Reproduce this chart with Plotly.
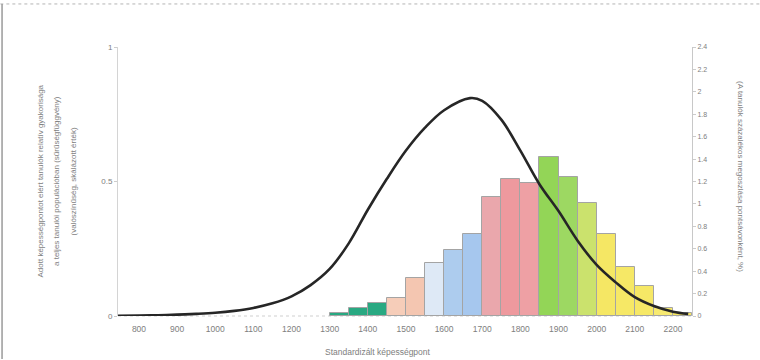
import plotly.graph_objects as go

# ---- data ----
bin_centers = [1325, 1375, 1425, 1475, 1525, 1575, 1625, 1675, 1725, 1775,
               1825, 1875, 1925, 1975, 2025, 2075, 2125, 2175, 2225]
bin_values = [0.03, 0.07, 0.12, 0.16, 0.34, 0.47, 0.59, 0.73, 1.06, 1.22,
              1.19, 1.42, 1.24, 1.01, 0.73, 0.44, 0.27, 0.07, 0.03]
bin_colors = ["#1ea57c", "#1ea57c", "#1ea57c", "#f6cbb6", "#f4c3ad", "#dde8f6",
              "#a9caee", "#a2c5ee", "#e9a3a8", "#ee9499", "#ee9ba0", "#8ed34f",
              "#98d65a", "#c9e166", "#f5e65c", "#f6e75e", "#f6e75e", "#f7e96a",
              "#f6e55a"]

curve_x = [745, 800, 850, 900, 950, 1000, 1050, 1100, 1150, 1200, 1250, 1300,
           1350, 1400, 1450, 1500, 1550, 1600, 1668, 1700, 1750, 1800, 1850,
           1900, 1950, 2000, 2050, 2100, 2150, 2200, 2240]
curve_y = [0.001, 0.002, 0.003, 0.005, 0.008, 0.012, 0.019, 0.030, 0.047,
           0.073, 0.115, 0.175, 0.27, 0.395, 0.51, 0.615, 0.70, 0.765, 0.81,
           0.80, 0.73, 0.615, 0.49, 0.39, 0.28, 0.19, 0.125, 0.07, 0.037,
           0.016, 0.008]

x_ticks = [800, 900, 1000, 1100, 1200, 1300, 1400, 1500, 1600, 1700, 1800,
           1900, 2000, 2100, 2200]
left_ticks = [0, 0.5, 1]
right_ticks = [0, 0.2, 0.4, 0.6, 0.8, 1, 1.2, 1.4, 1.6, 1.8, 2, 2.2, 2.4]

x_title = "Standardizált képességpont"
left_title_lines = [
    "Adott képességpontot elért tanulók relatív gyakorisága",
    "a teljes tanulói populációban (sűrűségfüggvény)",
    "(valószínűség, skálázott érték)",
]
right_title = "(A tanulók százalékos megoszlása pontsávonként, %)"

FONT = "Liberation Sans, Arial, sans-serif"
GREY = "#7e7e7e"
L, R, T, B = 118, 68, 47, 44
PW, PH = 760 - L - R, 360 - T - B

fig = go.Figure()

fig.add_trace(go.Bar(
    x=bin_centers, y=bin_values, width=50, yaxis="y",
    marker=dict(color=bin_colors, line=dict(color="#a0a0a0", width=1)),
    opacity=0.95, showlegend=False, hoverinfo="skip"))

fig.add_trace(go.Scatter(
    x=curve_x, y=curve_y, mode="lines", yaxis="y2",
    line=dict(color="#262626", width=2.6, shape="spline", smoothing=1.0),
    showlegend=False, hoverinfo="skip"))

annotations = []
for i, txt in enumerate(left_title_lines):
    annotations.append(dict(
        text=txt, xref="paper", yref="paper",
        x=(40 + 16.5 * i - L) / PW, y=0.5,
        xanchor="center", yanchor="middle", textangle=-90,
        showarrow=False, font=dict(size=8, color=GREY, family=FONT)))
annotations.append(dict(
    text=right_title, xref="paper", yref="paper",
    x=(741 - L) / PW, y=0.52, xanchor="center", yanchor="middle",
    textangle=90, showarrow=False,
    font=dict(size=8, color=GREY, family=FONT)))
annotations.append(dict(
    text=x_title, xref="paper", yref="paper",
    x=(378 - L) / PW, y=-(352 - (360 - B)) / PH,
    xanchor="center", yanchor="middle", showarrow=False,
    font=dict(size=8.5, color=GREY, family=FONT)))

fig.update_layout(
    width=760, height=360,
    margin=dict(l=L, r=R, t=T, b=B, autoexpand=False),
    paper_bgcolor="white", plot_bgcolor="white",
    font=dict(family=FONT, size=8, color=GREY),
    bargap=0,
    xaxis=dict(range=[745, 2250], tickvals=x_ticks,
               ticktext=[str(v) for v in x_ticks], automargin=False,
               showgrid=False, zeroline=False, showline=False,
               ticks="outside", ticklen=5, tickcolor="rgba(0,0,0,0)",
               tickfont=dict(size=8.5, color=GREY)),
    yaxis=dict(range=[0, 2.4], side="right", automargin=False,
               tickvals=right_ticks,
               ticktext=[("%g" % v) for v in right_ticks],
               showgrid=False, zeroline=False,
               showline=True, linecolor="#c8c8c8", linewidth=1,
               ticks="outside", ticklen=3, tickcolor="#cccccc",
               tickfont=dict(size=7, color=GREY)),
    yaxis2=dict(range=[0, 1], overlaying="y", side="left", automargin=False,
                tickvals=left_ticks, ticktext=["0", "0.5", "1"],
                showgrid=False, zeroline=False,
                showline=True, linecolor="#d4d4d4", linewidth=1,
                ticks="outside", ticklen=3, tickcolor="#cccccc",
                tickfont=dict(size=8, color=GREY)),
    annotations=annotations,
    shapes=[
        dict(type="line", xref="paper", yref="paper", x0=0, x1=1, y0=0, y1=0,
             line=dict(color="#cfcfcf", width=1, dash="dot"), layer="below"),
        dict(type="line", xref="paper", yref="paper", x0=-0.205, x1=1.118,
             y0=1.16, y1=1.16, line=dict(color="#b5b5b5", width=1, dash="dot")),
        dict(type="line", xref="paper", yref="paper", x0=-0.202, x1=-0.202,
             y0=-0.16, y1=1.16, line=dict(color="#9a9a9a", width=1.5)),
    ],
)

fig.write_html("out.html")
